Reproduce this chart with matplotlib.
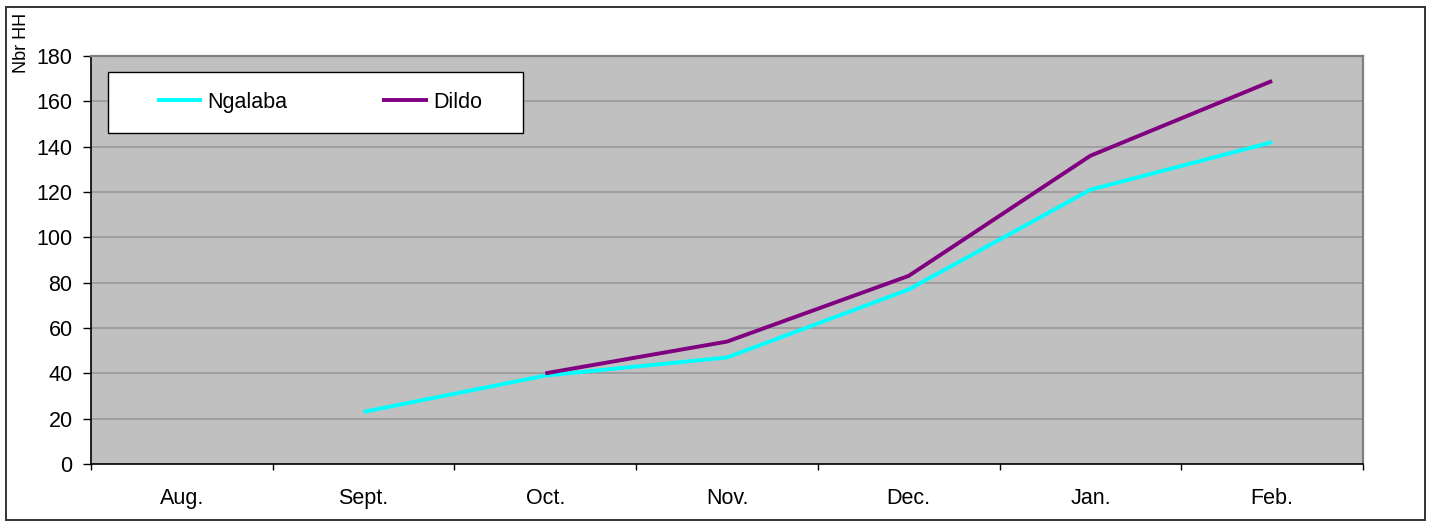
import numpy as np
import matplotlib
matplotlib.use('Agg')
import matplotlib.pyplot as plt
from matplotlib.patches import Rectangle

months = ['Aug.', 'Sept.', 'Oct.', 'Nov.', 'Dec.', 'Jan.', 'Feb.']
ngalaba = [np.nan, 23, 39, 47, 77, 121, 142]
dildo = [np.nan, np.nan, 40, 54, 83, 136, 169]
yticks = [0, 20, 40, 60, 80, 100, 120, 140, 160, 180]

plt.rcParams['font.family'] = ['Liberation Sans', 'DejaVu Sans']
FS = 15.5

W, H = 1430, 521
fig = plt.figure(figsize=(W / 100, H / 100), dpi=100)
fig.patch.set_facecolor('white')

# outer border
fig.add_artist(Rectangle((6 / W, 1 - 520 / H), (1425 - 6) / W, (520 - 7) / H,
                         transform=fig.transFigure, fill=False,
                         edgecolor='#333333', linewidth=1.4))

left, right, top, bottom = 91, 1363, 56, 464
ax = fig.add_axes([left / W, 1 - bottom / H, (right - left) / W, (bottom - top) / H])
ax.set_facecolor('#C0C0C0')

x = np.arange(len(months))
ax.plot(x, ngalaba, color='#00FFFF', linewidth=2.8, label='Ngalaba', solid_capstyle='butt')
ax.plot(x, dildo, color='#800080', linewidth=2.8, label='Dildo', solid_capstyle='butt')

ax.set_xlim(-0.5, len(months) - 0.5)
ax.set_ylim(0, 180)
ax.set_yticks(yticks)
ax.set_yticklabels([str(v) for v in yticks], fontsize=FS)
ax.yaxis.grid(True, color='#999999', linewidth=1.2)
ax.set_axisbelow(True)

ax.set_xticks(x)
ax.set_xticklabels(months, fontsize=FS)
ax.set_xticks(np.arange(-0.5, len(months)), minor=True)
ax.tick_params(axis='x', which='major', length=0, pad=17)
ax.tick_params(axis='x', which='minor', length=4.5, width=1, direction='out', color='black')
ax.tick_params(axis='y', length=5.8, width=1, direction='out', color='black', pad=7.5)

for s in ['left', 'bottom']:
    ax.spines[s].set_color('black')
    ax.spines[s].set_linewidth(1.2)
for s in ['top', 'right']:
    ax.spines[s].set_color('#808080')
    ax.spines[s].set_linewidth(1.6)

fig.text(21 / W, 1 - 43 / H, 'Nbr HH', rotation=90, fontsize=13,
         ha='center', va='center')

# legend box (white with black frame), entries placed inside it
ax.add_patch(Rectangle((108 / W, 1 - 133 / H), (523 - 108) / W, (133 - 72) / H,
                       transform=fig.transFigure, facecolor='white',
                       edgecolor='black', linewidth=1, zorder=4, clip_on=False))
leg = ax.legend(loc='center left',
                bbox_to_anchor=((157 - left) / (right - left), (bottom - 102.5) / (bottom - top)),
                ncol=2, fontsize=FS, frameon=False,
                borderpad=0, handlelength=2.1, handletextpad=0.25,
                columnspacing=4.4, borderaxespad=0)
leg.set_zorder(5)

fig.savefig('out.png', dpi=100)
